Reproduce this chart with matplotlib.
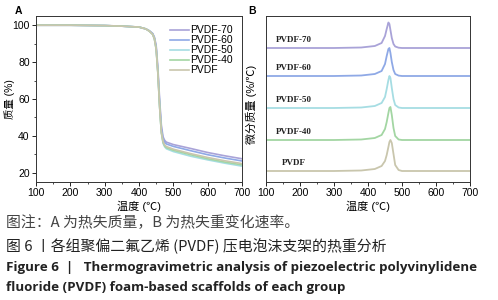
import numpy as np
import matplotlib
matplotlib.use('Agg')
import matplotlib.pyplot as plt
from matplotlib.ticker import MultipleLocator

plt.rcParams['font.family'] = ['Liberation Sans', 'Noto Sans CJK SC', 'DejaVu Sans']
plt.rcParams['font.size'] = 7

# Panel A: TG curves (mass %)
tg_temp = [100, 200, 300, 350, 400, 420, 430, 440, 445, 450, 455, 460, 465, 470, 475, 480, 500, 550, 600, 650, 700]
tg_pvdf70 = [100, 100, 99.8, 99.5, 99.0, 98.0, 97.0, 95.5, 93.5, 89, 77, 60, 46, 39.5, 37.5, 36.6, 35.3, 33.2, 31.0, 29.2, 27.6]
tg_pvdf60 = [100, 100, 99.8, 99.5, 99.0, 98.0, 97.0, 95.3, 93.0, 88, 75, 58, 44, 38.5, 36.5, 35.6, 34.3, 32.0, 29.8, 28.0, 26.4]
tg_pvdf50 = [100, 100, 99.8, 99.5, 99.0, 98.0, 96.8, 95.0, 92.5, 87, 74, 56, 42, 36.0, 34.0, 33.0, 31.5, 29.0, 27.0, 25.2, 23.6]
tg_pvdf40 = [100, 100, 99.8, 99.5, 99.0, 98.0, 96.8, 95.0, 92.5, 87, 74, 56, 42, 36.5, 34.5, 33.6, 32.2, 29.8, 27.6, 25.8, 24.3]
tg_pvdf = [100, 100, 99.8, 99.5, 99.0, 98.0, 96.8, 95.0, 92.5, 87, 74, 56, 42, 37.0, 35.0, 34.2, 32.8, 30.4, 28.3, 26.5, 25.0]

# Panel B: DTG curves, stacked (arbitrary units)
dtg_temp = [100, 200, 300, 380, 420, 440, 450, 455, 460, 463, 466, 470, 475, 480, 490, 500, 550, 600, 700]
dtg_pvdf70 = [134, 134, 134, 134.5, 136, 139, 146, 153, 159.5, 158, 152, 144, 138, 135.5, 134.3, 134, 134, 134, 134]
dtg_pvdf60 = [106, 106, 106, 106.5, 108, 111, 118, 126, 133, 134, 129, 120, 112, 108, 106.4, 106, 106, 106, 106]
dtg_pvdf50 = [74, 74, 74, 74.5, 76, 79, 85, 93, 102, 106, 104, 94, 83, 77, 74.5, 74, 74, 74, 74]
dtg_pvdf40 = [42, 42, 42, 42.5, 44, 47, 53, 60, 69, 74, 75, 67, 54, 46, 42.5, 42, 42, 42, 42]
dtg_pvdf = [11, 11, 11, 11.5, 13, 16, 21, 27, 35, 40, 42, 39, 28, 17, 12, 11, 11, 11, 11]

labels = ['PVDF-70', 'PVDF-60', 'PVDF-50', 'PVDF-40', 'PVDF']
colors = ['#a9a3d8', '#8fa9e6', '#a6dde3', '#a3d6a3', '#c9c6ad']

tg_data = [tg_pvdf70, tg_pvdf60, tg_pvdf50, tg_pvdf40, tg_pvdf]
dtg_data = [dtg_pvdf70, dtg_pvdf60, dtg_pvdf50, dtg_pvdf40, dtg_pvdf]

fig = plt.figure(figsize=(4.98, 3.0), dpi=100)

axA = fig.add_axes([36/498, 118/300, 206/498, 166/300])
axB = fig.add_axes([266/498, 118/300, 204/498, 166/300])

for y, c, lab in zip(tg_data, colors, labels):
    axA.plot(tg_temp, y, color=c, lw=1.2, label=lab)
axA.set_xlim(100, 700)
axA.set_ylim(15, 105)
axA.xaxis.set_major_locator(MultipleLocator(100))
axA.xaxis.set_minor_locator(MultipleLocator(50))
axA.yaxis.set_minor_locator(MultipleLocator(10))
axA.set_yticks([20, 40, 60, 80, 100])
axA.set_ylabel('质量 (%)', fontsize=7.5)
axA.yaxis.set_label_coords(-0.10, 0.5)
axA.set_xlabel('温度 (℃)', fontsize=8, labelpad=2)
axA.legend(loc='upper right', frameon=False, fontsize=7.5, handlelength=1.8,
           handletextpad=0.1, labelspacing=0.0, borderaxespad=0.5)

for y, c, lab in zip(dtg_data, colors, labels):
    axB.plot(dtg_temp, y, color=c, lw=1.3)
    axB.text(182, y[0] + 4, lab, fontsize=6.5, fontweight='bold',
             family=['Liberation Serif'], ha='center', va='bottom', color='#222222')
axB.set_xlim(100, 700)
axB.set_ylim(0, 166)
axB.xaxis.set_major_locator(MultipleLocator(100))
axB.xaxis.set_minor_locator(MultipleLocator(50))
axB.set_yticks([])
axB.set_ylabel('微分质量 (%/℃)', fontsize=8)
axB.yaxis.set_label_coords(-0.045, 0.47)
axB.set_xlabel('温度 (℃)', fontsize=8, labelpad=2)

for ax in (axA, axB):
    ax.tick_params(which='major', length=3, width=0.6, pad=1.5, labelsize=7.5)
    ax.tick_params(which='minor', length=1.5, width=0.5)
    for s in ax.spines.values():
        s.set_linewidth(0.7)
        s.set_color('#333333')

fig.text(15/498, 1 - 11/300, 'A', fontsize=7.5, fontweight='bold', va='center')
fig.text(248/498, 1 - 11/300, 'B', fontsize=7.5, fontweight='bold', va='center')

cjk = ['Noto Sans CJK SC', 'DejaVu Sans']
fig.text(6/498, 1 - 223/300, '图注：A 为热失质量，B 为热失重变化速率。', fontsize=10.7,
         family=cjk, va='center', color='#444444')
fig.text(6/498, 1 - 246/300, '图 6 丨各组聚偏二氟乙烯 (PVDF) 压电泡沫支架的热重分析', fontsize=10.7,
         family=cjk, va='center', color='#222222')
fig.text(6/498, 1 - 267/300, 'Figure 6  |   Thermogravimetric analysis of piezoelectric polyvinylidene',
         fontsize=9.6, fontweight='bold', family=['Open Sans', 'DejaVu Sans'], va='center', color='#222222')
fig.text(6/498, 1 - 287/300, 'fluoride (PVDF) foam-based scaffolds of each group',
         fontsize=9.6, fontweight='bold', family=['Open Sans', 'DejaVu Sans'], va='center', color='#222222')

fig.savefig('out.png', dpi=100)
